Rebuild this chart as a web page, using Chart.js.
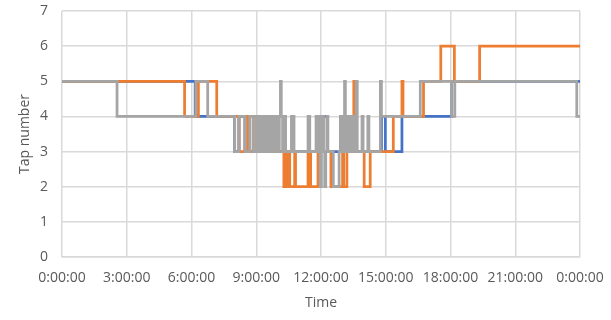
<!DOCTYPE html>
<html>
<head>
<meta charset="utf-8">
<script src="https://cdn.jsdelivr.net/npm/chart.js@4/dist/chart.umd.min.js"></script>
<style>
  html, body { margin: 0; padding: 0; background: #fff; }
  #wrap { width: 611px; height: 320px; }
</style>
</head>
<body>
<div id="wrap"><canvas id="tapChart" width="611" height="320"></canvas></div>
<script>
// hours of the day at which the tap changes, and the new tap value
const grayTimes = [0, 2.55, 6.2, 6.75, 8.0, 8.2, 8.48, 8.7, 8.86, 9.0, 9.05, 9.1, 9.15, 9.2, 9.27, 9.33, 9.4, 9.45,
    9.52, 9.58, 9.63, 9.7, 9.76, 9.82, 9.88, 9.95, 10.0, 10.07, 10.12, 10.16, 10.22, 10.3, 10.36, 10.63, 10.75,
    11.4, 11.48, 11.77, 11.83, 11.9, 11.96, 12.02, 12.07, 12.12, 12.17, 12.22, 12.27, 12.32, 12.57, 12.84, 12.9,
    12.95, 13.0, 13.05, 13.09, 13.13, 13.18, 13.25, 13.3, 13.38, 13.45, 13.5, 13.55, 13.63, 13.68, 13.9, 13.95,
    14.17, 14.22, 14.75, 14.8, 16.6, 18.05, 18.2, 23.85, 24];
const grayTaps = [5, 4, 5, 4, 3, 4, 3, 4, 3, 4, 3, 4, 3, 4, 3, 4, 3, 4,
    3, 4, 3, 4, 3, 4, 3, 4, 3, 4, 5, 4, 3, 4, 3, 4, 3,
    4, 3, 4, 3, 4, 2, 3, 4, 3, 2, 3, 4, 3, 2, 3, 4,
    3, 4, 3, 5, 4, 3, 4, 3, 4, 3, 4, 3, 5, 3, 4, 3,
    4, 3, 5, 4, 5, 4, 5, 4, 4];

const orangeTimes = [0, 5.68, 6.32, 7.17, 8.2, 8.48, 8.62, 8.86, 9.0, 9.25, 9.35, 9.55, 9.65, 9.9, 10.0, 10.28,
    10.33, 10.4, 10.5, 10.55, 10.78, 10.82, 11.4, 11.52, 11.86, 12.46, 13.0, 13.05, 13.2, 13.52, 13.57, 14.0,
    14.28, 15.35, 15.75, 15.8, 16.75, 17.55, 18.18, 19.35, 24];
const orangeTaps = [5, 4, 5, 4, 3, 4, 3, 4, 3, 4, 3, 4, 3, 4, 3, 2,
    3, 2, 3, 2, 3, 2, 3, 2, 3, 2, 3, 2, 3, 5, 3, 2,
    3, 4, 5, 4, 5, 6, 5, 6, 6];

const blueTimes = [0, 6.17, 8.0, 8.2, 8.48, 9.0, 9.3, 9.6, 10.0, 11.8, 12.3, 12.9, 13.5, 14.8, 14.98,
    15.75, 18.06, 24];
const blueTaps = [5, 4, 3, 4, 3, 4, 3, 4, 3, 4, 3, 4, 3, 4, 3,
    4, 5, 5];

const xTicks = [0, 3, 6, 9, 12, 15, 18, 21, 24];
const yTicks = [0, 1, 2, 3, 4, 5, 6, 7];

const toPoints = (times, taps) => times.map((t, i) => ({ x: t, y: taps[i] }));

const lineStyle = {
    stepped: true,
    borderWidth: 2.75,
    pointRadius: 0,
    fill: false,
    tension: 0
};

const tickFont = { family: 'Open Sans', size: 14 };
const textColor = '#595959';
const gridColor = '#d9d9d9';

new Chart(document.getElementById('tapChart'), {
    type: 'line',
    data: {
        datasets: [
            { ...lineStyle, label: 'Series3', data: toPoints(grayTimes, grayTaps), borderColor: '#a5a5a5' },
            { ...lineStyle, label: 'Series2', data: toPoints(orangeTimes, orangeTaps), borderColor: '#ed7d31' },
            { ...lineStyle, label: 'Series1', data: toPoints(blueTimes, blueTaps), borderColor: '#4472c4' }
        ]
    },
    options: {
        responsive: false,
        animation: false,
        layout: { padding: { top: 11, right: 31, left: 10, bottom: 0 } },
        plugins: { legend: { display: false }, tooltip: { enabled: false } },
        scales: {
            x: {
                type: 'linear',
                min: 0,
                max: 24,
                afterBuildTicks: (scale) => { scale.ticks = xTicks.map(v => ({ value: v })); },
                ticks: {
                    color: textColor,
                    font: tickFont,
                    maxRotation: 0,
                    padding: 13,
                    callback: (v) => (v % 24) + ':00:00'
                },
                grid: { color: gridColor, lineWidth: 1.5, drawTicks: false },
                border: { color: gridColor, width: 1.5 },
                title: { display: true, text: 'Time', color: textColor, font: { family: 'Open Sans', size: 14 }, padding: { top: 4, bottom: 9 } },
                afterFit: (scale) => {
                    scale.height = 63;
                    scale.paddingLeft = 0;
                    scale.paddingRight = 0;
                }
            },
            y: {
                min: 0,
                max: 7,
                afterBuildTicks: (scale) => { scale.ticks = yTicks.map(v => ({ value: v })); },
                ticks: { color: textColor, font: tickFont, padding: 14 },
                grid: { color: gridColor, lineWidth: 1.5, drawTicks: false },
                border: { display: false },
                title: { display: true, text: 'Tap number', color: textColor, font: { family: 'Open Sans', size: 14 }, padding: { top: 7, bottom: 2 } },
                afterFit: (scale) => {
                    scale.width = 52;
                    scale.paddingTop = 0;
                    scale.paddingBottom = 0;
                }
            }
        }
    }
});
</script>
</body>
</html>
